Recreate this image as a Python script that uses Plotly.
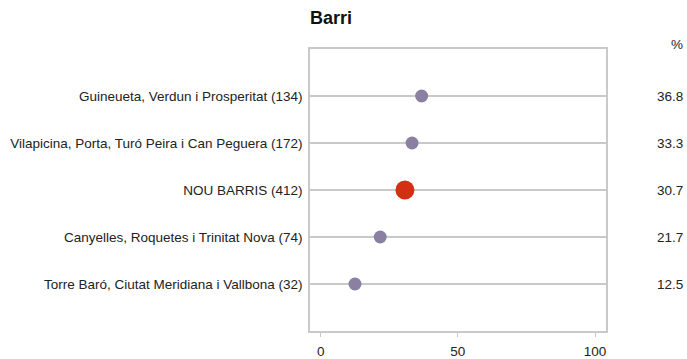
import plotly.graph_objects as go

# Neighbourhood shares (%) with sample sizes in the labels
categories = [
    "Guineueta, Verdun i Prosperitat (134)",
    "Vilapicina, Porta, Turó Peira i Can Peguera (172)",
    "NOU BARRIS (412)",
    "Canyelles, Roquetes i Trinitat Nova (74)",
    "Torre Baró, Ciutat Meridiana i Vallbona (32)",
]
values = [36.8, 33.3, 30.7, 21.7, 12.5]
is_total = [False, False, True, False, False]
x_ticks = [0, 50, 100]

PURPLE = "#8b80a1"
RED = "#d52f13"
GRID = "#c9c9c9"
FONT = "Liberation Sans, Arial, sans-serif"
FS = 13.5

colors = [RED if t else PURPLE for t in is_total]
sizes = [19 if t else 13 for t in is_total]

fig = go.Figure()
fig.add_trace(go.Scatter(
    x=values,
    y=categories,
    mode="markers",
    marker=dict(color=colors, size=sizes, opacity=1, line=dict(width=0)),
    hoverinfo="x+y",
    showlegend=False,
))

# Value column at the right of the plot
for cat, v in zip(categories, values):
    fig.add_annotation(
        x=1.0, xref="paper", xshift=79, xanchor="right",
        y=cat, yref="y",
        text=f"{v:.1f}", showarrow=False,
        font=dict(family=FONT, size=FS, color="#222222"),
    )
fig.add_annotation(
    x=1.0, xref="paper", xshift=79, xanchor="right",
    y=1.0, yref="paper", yshift=-5, yanchor="bottom",
    text="%", showarrow=False,
    font=dict(family=FONT, size=FS, color="#222222"),
)

fig.update_layout(
    width=687, height=359,
    margin=dict(l=310, r=81, t=49, b=28, autoexpand=False),
    paper_bgcolor="white",
    plot_bgcolor="white",
    font=dict(family=FONT, size=FS, color="#222222"),
    title=dict(
        text="<b>Barri</b>",
        x=310 / 687, xanchor="left",
        y=1 - 18 / 359, yanchor="middle",
        font=dict(family=FONT, size=18, color="#111111"),
    ),
)
fig.update_xaxes(
    range=[-3.9, 104],
    tickvals=x_ticks,
    ticks="outside", ticklen=4, tickcolor=GRID, tickwidth=1,
    ticklabelstandoff=3,
    showgrid=False, zeroline=False, automargin=False,
    showline=True, linecolor=GRID, linewidth=1.5, mirror=True,
    tickfont=dict(family=FONT, size=FS),
)
fig.update_yaxes(
    type="category",
    categoryorder="array", categoryarray=categories,
    range=[len(categories), -1],
    showgrid=True, gridcolor=GRID, gridwidth=1.5,
    ticks="", ticklabelstandoff=3, automargin=False,
    showline=True, linecolor=GRID, linewidth=1.5, mirror=True,
    zeroline=False,
    tickfont=dict(family=FONT, size=FS),
)

fig.write_html("out.html")
